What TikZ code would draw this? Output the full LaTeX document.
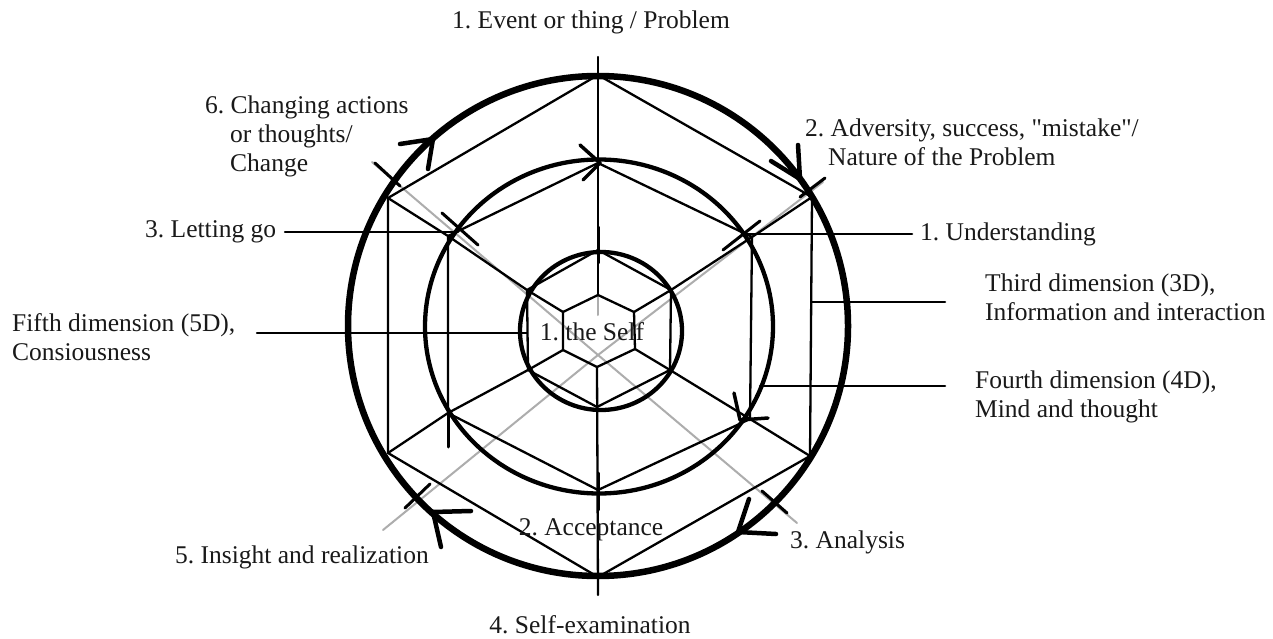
\documentclass[tikz,border=0pt]{standalone}
\usepackage{fontspec}
\setmainfont{Liberation Serif}[Ligatures=TeXOff]
\begin{document}
\frenchspacing
\begin{tikzpicture}[x=1pt,y=-1pt,line join=round,line cap=round,
  hexline/.style={line width=2.3pt,black},
  ring/.style={line width=4.3pt,black},
  outerring/.style={line width=6.5pt,black},
  guide/.style={line width=2pt,black!32},
  tickmark/.style={line width=3pt,black},
  arrowstroke/.style={line width=4.5pt,black},
  leader/.style={line width=2.5pt,black},
  lbl/.style={font=\fontsize{25.5}{29}\selectfont,inner sep=0pt,align=left,text=black!90}]
\useasboundingbox (0,0) rectangle (1273,639);
\fill[white] (0,0) rectangle (1273,639);
% centre
\coordinate (C) at (598,326);
% hexagon vertices
\coordinate (O1) at (598,75);  \coordinate (O2) at (812,197); \coordinate (O3) at (810,456);
\coordinate (O4) at (598,577); \coordinate (O5) at (388,453); \coordinate (O6) at (388,198);
\coordinate (M1) at (598,163); \coordinate (M2) at (752,237); \coordinate (M3) at (750,419);
\coordinate (M4) at (598,490); \coordinate (M5) at (448,413); \coordinate (M6) at (448,236);
\coordinate (I1) at (598,250); \coordinate (I2) at (671,290); \coordinate (I3) at (670,370);
\coordinate (I4) at (597,407); \coordinate (I5) at (528,370); \coordinate (I6) at (527,290);
\coordinate (S1) at (598,295); \coordinate (S2) at (634,312); \coordinate (S3) at (635,349);
\coordinate (S4) at (597,367); \coordinate (S5) at (563,350); \coordinate (S6) at (563,312);
% grey guide lines
\coordinate (G0) at (598,355);
\coordinate (G1) at (372,162); \coordinate (G2) at (823,182);
\coordinate (G3) at (383,530); \coordinate (G4) at (797,523);
\draw[guide] (G1) -- (G0) -- (G2);
\draw[guide] (G3) -- (G0) -- (G4);
\draw[guide] (S1) -- ++(0,20);
% circles
\draw[outerring] (C) circle[radius=250pt];
\draw[ring] (599,326.5) ellipse[x radius=174pt, y radius=167pt];
\draw[ring] (601,331) ellipse[x radius=81pt, y radius=79pt];
% hexagons
\draw[hexline] (O1) -- (O2) -- (O3) -- (O4) -- (O5) -- (O6) -- cycle;
\draw[hexline] (M1) -- (M2) -- (M3) -- (M4) -- (M5) -- (M6) -- cycle;
\draw[hexline] (I1) -- (I2) -- (I3) -- (I4) -- (I5) -- (I6) -- cycle;
\draw[hexline] (S1) -- (S2) -- (S3) -- (S4) -- (S5) -- (S6) -- cycle;
% radial connections
\draw[hexline] (S6) -- (I6) -- (M6) -- (O6);
\draw[hexline] (S2) -- (I2) -- (M2) -- (O2);
\draw[hexline] (S3) -- (I3) -- (M3) -- (O3);
\draw[hexline] (S5) -- (I5) -- (M5) -- (O5);
% vertical axis
\coordinate (Vt) at (598,57); \coordinate (Vb) at (598,595);
\draw[hexline] (Vt) -- (S1);
\draw[hexline] (S4) -- (Vb);
\draw[tickmark] (598,227) -- (598,263);
\draw[tickmark] (598,473) -- (598,510);
% ticks on the grey lines
\draw[tickmark] (375,163) -- (400,186);
\draw[tickmark] (442,213) -- (478,245);
\draw[tickmark] (800,197) -- (825,178);
\draw[tickmark] (723,250) -- (760,221);
\draw[tickmark] (405,508) -- (430,484);
\draw[tickmark] (762,491) -- (787,513);
% arrowheads on outer circle (clockwise)
\coordinate (A1) at (433,139); \coordinate (A2) at (800,179);
\coordinate (A3) at (738,532); \coordinate (A4) at (433,512);
\draw[arrowstroke] ([shift={(-33,5)}]A1) -- (A1) -- ([shift={(-5,30)}]A1);
\draw[arrowstroke] ([shift={(-2,-34)}]A2) -- (A2) -- ([shift={(-29,-18)}]A2);
\draw[arrowstroke] ([shift={(11,-33)}]A3) -- (A3) -- ([shift={(38,2)}]A3);
\draw[arrowstroke] ([shift={(38,-1)}]A4) -- (A4) -- ([shift={(8,35)}]A4);
% arrowheads on middle circle
\coordinate (B1) at (600,163); \coordinate (B2) at (740,420);
\draw[arrowstroke,line width=3.5pt] ([shift={(-20,-18)}]B1) -- (B1) -- ([shift={(-17,17)}]B1);
\draw[arrowstroke,line width=3.5pt] ([shift={(-6,-27)}]B2) -- (B2) -- ([shift={(28,-2)}]B2);
\draw[arrowstroke,line width=3pt] (M5) -- ++(0,34);
% labels
\node[lbl] (tTop) at (591,22) {1. Event or thing / Problem};
\node[lbl,anchor=north west] (tChg) at (205,96) {6. Changing actions\\\hspace*{25pt}or thoughts/\\\hspace*{25pt}Change};
\node[lbl,anchor=west] (tAdv) at (805,142) {2. Adversity, success, "mistake"/\\\hspace*{23pt}Nature of the Problem};
\node[lbl,anchor=west] (tLet) at (145,232) {3. Letting go};
\node[lbl,anchor=west] (tUnd) at (920,234) {1. Understanding};
\node[lbl,anchor=west] (t3D) at (985,297) {Third dimension (3D),\\Information and interaction};
\node[lbl,anchor=west] (t5D) at (12,337) {Fifth dimension (5D),\\Consiousness};
\node[lbl,anchor=west] (t4D) at (975,397) {Fourth dimension (4D),\\Mind and thought};
\node[lbl] (tSelf) at (592,332) {1. the Self};
\node[lbl] (tAcc) at (591,530) {2. Acceptance};
\node[lbl,anchor=west] (tAna) at (790,542) {3. Analysis};
\node[lbl,anchor=west] (tIns) at (175,557) {5. Insight and realization};
\node[lbl] (tSE) at (590,625) {4. Self-examination};
% leader lines
\coordinate (L1a) at (285,232); \coordinate (L1b) at (458,232);
\coordinate (L2a) at (745,234); \coordinate (L2b) at (912,234);
\coordinate (L3a) at (812,302); \coordinate (L3b) at (945,302);
\coordinate (L4a) at (257,333); \coordinate (L4b) at (527,333);
\coordinate (L5a) at (760,386); \coordinate (L5b) at (945,386);
\draw[leader] (L1a) -- (L1b);
\draw[leader] (L2a) -- (L2b);
\draw[leader] (L3a) -- (L3b);
\draw[leader] (L4a) -- (L4b);
\draw[leader] (L5a) -- (L5b);
\end{tikzpicture}
\end{document}
